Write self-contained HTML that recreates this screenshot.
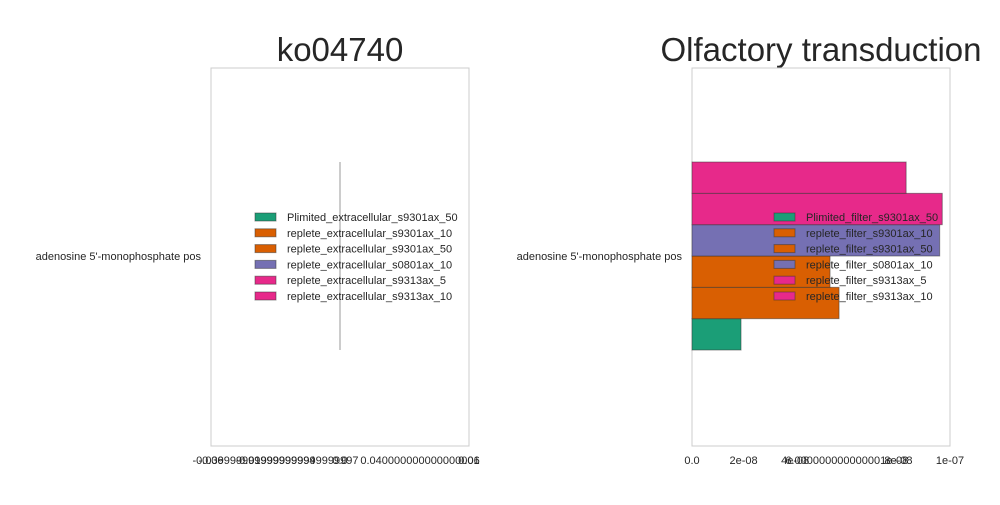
<!DOCTYPE html>
<html><head><meta charset="utf-8"><style>
body{margin:0;background:#fff;font-family:"Liberation Sans",sans-serif;}
svg text{font-family:"Liberation Sans",sans-serif;fill:#262626}
</style></head><body>
<svg id="c" width="1000" height="500">
<g id="left">
<text x="340" y="61" font-size="33" text-anchor="middle">ko04740</text>
<rect x="211" y="68" width="258" height="378" fill="none" stroke="#cccccc"/>
<line x1="340" y1="162" x2="340" y2="350" stroke="#bbbbbb" stroke-width="1.5"/>
<text x="201" y="260" font-size="11" text-anchor="end">adenosine 5'-monophosphate pos</text>
<g font-size="11" text-anchor="middle">
<text x="211" y="464">-0.06</text>
<text x="254" y="464">-0.039999999999999994</text>
<text x="297" y="464">-0.019999999999999997</text>
<text x="340" y="464">0.0</text>
<text x="420" y="464">0.040000000000000001</text>
<text x="469" y="464">0.06</text>
</g>
<g id="legL"></g>
</g>
<g id="right">
<text x="821" y="61" font-size="33" text-anchor="middle">Olfactory transduction</text>
<rect x="692" y="68" width="258" height="378" fill="none" stroke="#cccccc"/>
<text x="682" y="260" font-size="11" text-anchor="end">adenosine 5'-monophosphate pos</text>
<g id="bars"></g>
<g id="ticksR" font-size="11" text-anchor="middle"></g>
<g id="legR"></g>
</g>
</svg>
<script>
const seriesL=["Plimited_extracellular_s9301ax_50","replete_extracellular_s9301ax_10","replete_extracellular_s9301ax_50","replete_extracellular_s0801ax_10","replete_extracellular_s9313ax_5","replete_extracellular_s9313ax_10"];
const seriesR=["Plimited_filter_s9301ax_50","replete_filter_s9301ax_10","replete_filter_s9301ax_50","replete_filter_s0801ax_10","replete_filter_s9313ax_5","replete_filter_s9313ax_10"];
const colors=["#1b9e77","#d95f02","#d95f02","#7570b3","#e7298a","#e7298a"];
const valuesR=[1.9e-8,5.7e-8,5.35e-8,9.6e-8,9.7e-8,8.3e-8];
const ticksR=[0,2e-8,4e-8,6e-8,8e-8,1e-7];
const tickLabelsR=["0.0","2e-08","4e-08","6.000000000000001e-08","8e-08","1e-07"];
const NS="http://www.w3.org/2000/svg";
function mk(t,a,p){const e=document.createElementNS(NS,t);for(const k in a)e.setAttribute(k,a[k]);p.appendChild(e);return e;}
const x=v=>692+v/1e-7*258;
const bh=31.33, bottom=350;
const bars=document.getElementById('bars');
valuesR.forEach((v,i)=>{
  const r=mk('rect',{x:x(0),y:bottom-(i+1)*bh,width:x(v)-x(0),height:bh,fill:colors[i],stroke:'#333',"stroke-opacity":0.5,"stroke-width":1},bars);
  
  
});
const tg=document.getElementById('ticksR');
ticksR.forEach((t,i)=>{
  const e=mk('text',{x:x(t),y:464},tg);e.textContent=tickLabelsR[i];
  
  
});
function legend(g,names,sx,tx){
  names.forEach((n,i)=>{
    const y=217+i*15.8;
    const s=mk('rect',{x:sx,y:y-4,width:21,height:8,fill:colors[i],stroke:'#333',"stroke-opacity":0.5},g);
    
    
    const t=mk('text',{x:tx,y:y+4,"font-size":11},g);t.textContent=n;
    
    
  });
}
legend(document.getElementById('legL'),seriesL,255,287);
legend(document.getElementById('legR'),seriesR,774,806);
</script>
</body></html>
